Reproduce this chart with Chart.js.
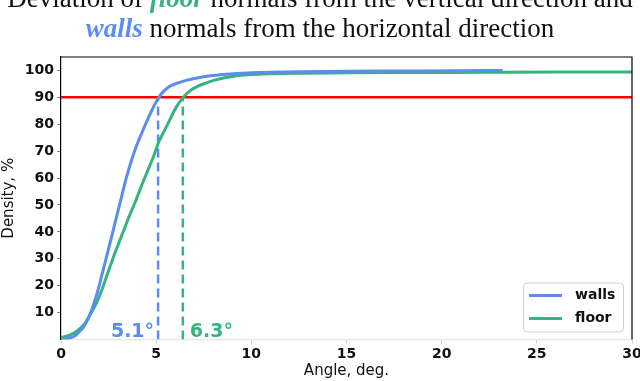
<!DOCTYPE html>
<html>
<head>
<meta charset="utf-8">
<script src="https://cdn.jsdelivr.net/npm/chart.js@4/dist/chart.umd.min.js"></script>
<style>
  html, body { margin: 0; padding: 0; background: #fff; }
  #wrap { position: relative; width: 640px; height: 381px; overflow: hidden; }
  #title {
    position: absolute; left: 0; top: -17px; width: 640px;
    text-align: center; font-family: "Liberation Serif", serif;
    font-size: 27px; line-height: 30px; color: #111; white-space: nowrap;
  }
  #title .fl { color: #35b47f; font-style: italic; font-weight: bold; }
  #title .wl { color: #5a8dee; font-style: italic; font-weight: bold; }
</style>
</head>
<body>
<div id="wrap">
  <canvas id="myChart" width="640" height="381"></canvas>
  <div id="title">Deviation of <span class="fl">floor</span> normals from the vertical direction and<br><span class="wl">walls</span> normals from the horizontal direction</div>
</div>
<script>
// DATOS DE LA GRAFICA
const wallsAngle = [0, 0.3, 0.66, 1.0, 1.19, 1.5, 1.71, 1.95, 2.15, 2.4, 2.68, 2.95, 3.2, 3.45, 3.73, 4.0, 4.26, 4.5, 4.78, 5.1, 5.4, 5.74, 6.2, 6.62, 7.2, 7.85, 8.5, 9.25, 10, 11, 12.5, 15, 18, 21, 23.2];
const wallsDensity = [0.1, 0.3, 1.0, 3.2, 4.7, 9.0, 13, 18.5, 24, 31, 38.8, 46.5, 53.6, 60.5, 67.2, 72.6, 77, 81, 85.3, 89.6, 92.3, 94.2, 95.5, 96.4, 97.3, 98, 98.5, 98.9, 99.1, 99.3, 99.5, 99.7, 99.8, 99.9, 100];

const floorAngle = [0, 0.25, 0.49, 0.8, 1.19, 1.5, 1.89, 2.15, 2.42, 2.8, 3.2, 3.55, 3.9, 4.25, 4.6, 4.85, 5.13, 5.45, 5.74, 6.05, 6.4, 6.8, 7.15, 7.6, 8.02, 8.6, 9.25, 10, 11, 12.5, 15, 18, 22, 26, 30];
const floorDensity = [0.8, 1.1, 1.7, 3.0, 5.4, 8.8, 14, 18.5, 24, 31.5, 38.8, 45.2, 51.1, 57.5, 63.5, 67.8, 73.3, 77.8, 82, 86.3, 89.8, 92.6, 94.0, 95.3, 96.3, 97.3, 98, 98.5, 98.8, 99.0, 99.1, 99.2, 99.3, 99.4, 99.4];

const threshold = 90;
const wallsAt90 = 5.1;
const floorAt90 = 6.4;
const markLabels = ["5.1°", "6.3°"];

const xTicks = [0, 5, 10, 15, 20, 25, 30];
const yTicks = [10, 20, 30, 40, 50, 60, 70, 80, 90, 100];

const blue = "#5a8dee";
const green = "#35b47f";

function toPoints(xs, ys) {
    return xs.map((x, i) => ({ x: x, y: ys[i] }));
}

const datasets = [
    { label: "walls", data: toPoints(wallsAngle, wallsDensity), borderColor: blue, borderWidth: 3, pointRadius: 0, cubicInterpolationMode: "monotone", showInLegend: true },
    { label: "floor", data: toPoints(floorAngle, floorDensity), borderColor: green, borderWidth: 3, pointRadius: 0, cubicInterpolationMode: "monotone", showInLegend: true },
    { label: "90%", data: [{ x: 0, y: threshold }, { x: 30, y: threshold }], borderColor: "#ff0000", borderWidth: 2.5, pointRadius: 0 },
    { label: "walls90", data: [{ x: wallsAt90, y: 0 }, { x: wallsAt90, y: threshold }], borderColor: blue, borderWidth: 2.5, borderDash: [9, 5], pointRadius: 0 },
    { label: "floor90", data: [{ x: floorAt90, y: 0 }, { x: floorAt90, y: threshold }], borderColor: green, borderWidth: 2.5, borderDash: [9, 5], pointRadius: 0 }
];

// BORDES, ETIQUETAS Y LEYENDA
const extras = {
    id: "extras",
    afterDraw(chart) {
        const ctx = chart.ctx;
        const a = chart.chartArea;
        const xs = chart.scales.x;
        const ys = chart.scales.y;
        ctx.save();
        ctx.strokeStyle = "#000";
        ctx.lineWidth = 1.2;
        ctx.beginPath();
        ctx.moveTo(a.left, a.top);
        ctx.lineTo(a.right, a.top);
        ctx.lineTo(a.right, a.bottom);
        ctx.stroke();

        // etiquetas de los umbrales
        ctx.font = "bold 19px 'DejaVu Sans'";
        ctx.textBaseline = "alphabetic";
        ctx.fillStyle = blue;
        ctx.textAlign = "right";
        ctx.fillText(markLabels[0], xs.getPixelForValue(wallsAt90) - 4, ys.getPixelForValue(0) - 3);
        ctx.fillStyle = green;
        ctx.textAlign = "left";
        ctx.fillText(markLabels[1], xs.getPixelForValue(floorAt90) + 7, ys.getPixelForValue(0) - 3);

        // leyenda
        const items = chart.data.datasets.filter(d => d.showInLegend);
        const bx = a.right - 109, by = a.bottom - 57, bw = 100, bh = 49;
        ctx.fillStyle = "rgba(255,255,255,0.85)";
        ctx.strokeStyle = "#d0d0d0";
        ctx.lineWidth = 1;
        ctx.beginPath();
        ctx.roundRect(bx + 0.5, by + 0.5, bw, bh, 4);
        ctx.fill();
        ctx.stroke();
        ctx.font = "bold 14px 'DejaVu Sans'";
        ctx.textAlign = "left";
        ctx.textBaseline = "middle";
        items.forEach((d, i) => {
            const yy = by + 13 + i * 23;
            ctx.strokeStyle = d.borderColor;
            ctx.lineWidth = 3;
            ctx.beginPath();
            ctx.moveTo(bx + 6, yy);
            ctx.lineTo(bx + 39, yy);
            ctx.stroke();
            ctx.fillStyle = "#111";
            ctx.fillText(d.label, bx + 52, yy);
        });
        ctx.restore();
    }
};

const config = {
    type: "line",
    data: { datasets },
    options: {
        responsive: false,
        animation: false,
        layout: { padding: { top: 57, right: 8, left: 0, bottom: 0 } },
        plugins: { legend: { display: false }, tooltip: { enabled: false } },
        scales: {
            x: {
                type: "linear", min: 0, max: 30,
                afterBuildTicks: s => { s.ticks = xTicks.map(v => ({ value: v })); },
                afterFit: s => { s.height = 41.5; s.paddingLeft = 0; s.paddingRight = 0; },
                ticks: { color: "#111", font: { family: "DejaVu Sans", size: 14, weight: "bold" }, padding: 2, maxRotation: 0 },
                grid: { drawOnChartArea: false, tickLength: 4, color: "#cccccc" },
                border: { color: "#e6e6e6", width: 1.2 },
                title: { display: true, text: "Angle, deg.", color: "#111", font: { family: "DejaVu Sans", size: 15 }, padding: { top: 0, bottom: 1 } }
            },
            y: {
                type: "linear", min: 0, max: 105,
                afterBuildTicks: s => { s.ticks = yTicks.map(v => ({ value: v })); },
                afterFit: s => { s.width = 61; s.paddingTop = 0; s.paddingBottom = 0; },
                ticks: { color: "#111", font: { family: "DejaVu Sans", size: 14, weight: "bold" }, padding: 3 },
                grid: { drawOnChartArea: false, tickLength: 4, color: "#888888" },
                border: { color: "#000", width: 1.2 },
                title: { display: true, text: "Density, %", color: "#111", font: { family: "DejaVu Sans", size: 15 }, padding: { top: 0, bottom: 0 } }
            }
        }
    },
    plugins: [extras]
};

const myChart = document.getElementById("myChart");
window.grafica = new Chart(myChart, config);
</script>
</body>
</html>
